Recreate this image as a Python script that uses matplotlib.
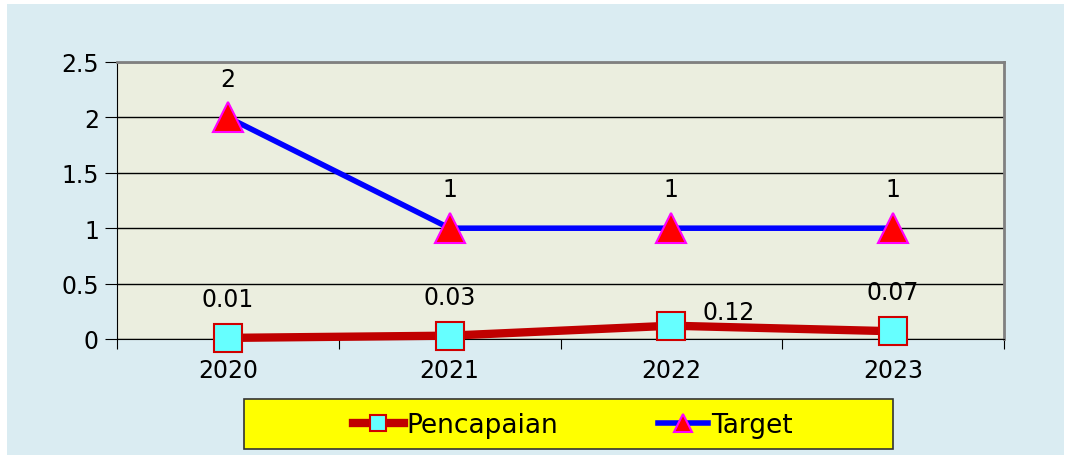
import numpy as np
import matplotlib.pyplot as plt
from matplotlib.patches import Rectangle

# Dati
years = ["2020", "2021", "2022", "2023"]
pencapaian = [0.01, 0.03, 0.12, 0.07]
target = [2, 1, 1, 1]
pencapaian_labels = ["0.01", "0.03", "0.12", "0.07"]
target_labels = ["2", "1", "1", "1"]

W, H = 1069, 456
fig = plt.figure(figsize=(W / 100, H / 100), dpi=100)
fig.patch.set_facecolor("white")
# sfondo azzurro
fig.patches.append(Rectangle((7 / W, 0), 1057 / W, 451 / H, transform=fig.transFigure,
                             facecolor="#DAECF2", edgecolor="none", zorder=-10))

ax = fig.add_axes([117 / W, 1 - 340 / H, 887 / W, 277 / H])
ax.set_facecolor("#EBEEDF")
x = np.arange(len(years))

ax.plot(x, pencapaian, color="#C00000", lw=6, marker="s", markersize=20,
        markerfacecolor="#66FFFF", markeredgecolor="#D00000", markeredgewidth=1.5,
        label="Pencapaian", zorder=4, clip_on=False)
ax.plot(x, target, color="#0000FF", lw=4, marker="^", markersize=22,
        markerfacecolor="#FF0000", markeredgecolor="#FF00FF", markeredgewidth=1.5,
        label="Target", zorder=5, clip_on=False)

ax.set_xlim(-0.5, 3.5)
ax.set_ylim(0, 2.5)
ax.set_yticks([0, 0.5, 1, 1.5, 2, 2.5])
ax.set_yticklabels(["0", "0.5", "1", "1.5", "2", "2.5"], fontsize=17)
ax.yaxis.grid(True, color="black", lw=1)
ax.set_axisbelow(True)

# tick sui confini delle categorie, etichette al centro
ax.set_xticks(np.arange(-0.5, 4, 1))
ax.set_xticklabels([])
ax.set_xticks(x, minor=True)
ax.set_xticklabels(years, minor=True, fontsize=17)
ax.tick_params(axis="x", which="minor", length=0, pad=14)
ax.tick_params(axis="x", which="major", length=7, color="black")
ax.tick_params(axis="y", length=9, pad=4)

ax.spines["top"].set_color("#808080")
ax.spines["right"].set_color("#808080")
ax.spines["top"].set_linewidth(2)
ax.spines["right"].set_linewidth(2)
ax.spines["left"].set_color("black")
ax.spines["bottom"].set_color("black")

for i in range(len(years)):
    ax.annotate(target_labels[i], (x[i], target[i]), xytext=(0, 28),
                textcoords="offset points", ha="center", va="center", fontsize=17)
for i in range(len(years)):
    if i == 2:
        ax.annotate(pencapaian_labels[i], (x[i], pencapaian[i]), xytext=(41, 10),
                    textcoords="offset points", ha="center", va="center", fontsize=17)
    else:
        ax.annotate(pencapaian_labels[i], (x[i], pencapaian[i]), xytext=(0, 28),
                    textcoords="offset points", ha="center", va="center", fontsize=17)

# riquadro giallo della legenda
fig.patches.append(Rectangle((244 / W, 1 - 450 / H), 649 / W, 50 / H, transform=fig.transFigure,
                             facecolor="#FFFF00", edgecolor="#333333", lw=1.2, zorder=1))
leg = fig.legend(loc="center", bbox_to_anchor=(573 / W, 1 - 426 / H), ncol=2,
                 fontsize=19, frameon=False, handlelength=1.9, markerscale=0.6,
                 columnspacing=3.8, handletextpad=0.1)
leg.set_zorder(2)

fig.savefig("out.png", dpi=100)
